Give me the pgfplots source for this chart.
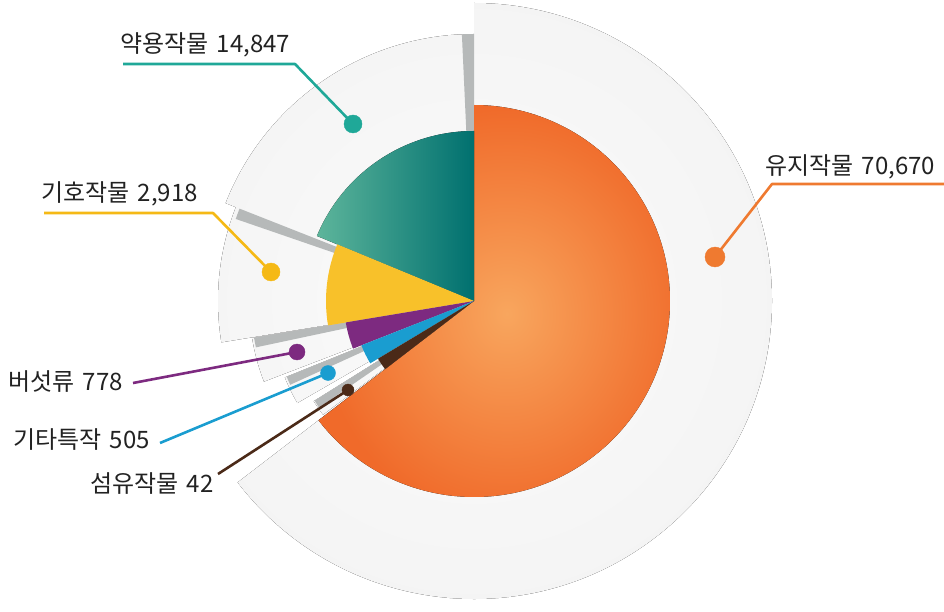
\documentclass[border=0pt]{standalone}
\usepackage{pgfplots}
\pgfplotsset{compat=1.18}
\usepackage{fontspec}
\setmainfont{Noto Sans CJK KR}

\definecolor{cteal}{HTML}{1FA898}
\definecolor{tealL}{HTML}{5DB59B}
\definecolor{tealM}{HTML}{009A8A}
\definecolor{tealR}{HTML}{00706F}
\definecolor{cyellow}{HTML}{F5B915}
\definecolor{yslice}{HTML}{F8C12A}
\definecolor{corange}{HTML}{EF7A30}
\definecolor{oin}{HTML}{F8A65E}
\definecolor{oout}{HTML}{F06A2A}
\definecolor{cpurple}{HTML}{7D2A80}
\definecolor{cblue}{HTML}{1A9DD0}
\definecolor{cbrown}{HTML}{4B2A18}
\definecolor{band}{HTML}{B6B9B9}
\definecolor{bgin}{HTML}{FBFBFB}
\definecolor{bgmid}{HTML}{F3F3F3}
\definecolor{bgout}{HTML}{E7E7E7}
\definecolor{txt}{HTML}{222222}

% light grey backdrop, brighter towards the centre
\pgfdeclareradialshading{bgshade}{\pgfpoint{0bp}{0bp}}{color(0bp)=(bgin); color(30bp)=(bgmid); color(50bp)=(bgout)}

% sector: start angle, end angle, radius (pt = px here), style
\newcommand{\sector}[4]{\fill[#4] (axis cs:474,310) -- ++(#1:#3pt) arc[start angle=#1, end angle=#2, radius=#3pt] -- cycle;}
\newcommand{\sectorpath}[3]{(axis cs:474,310) -- ++(#1:#3pt) arc[start angle=#1, end angle=#2, radius=#3pt] -- cycle}

\begin{document}
\begin{tikzpicture}
\begin{axis}[x=1pt, y=1pt, xmin=0, xmax=944, ymin=0, ymax=611,
  hide axis, clip=true]
\path (axis cs:0,0) rectangle (axis cs:944,611);

% backgrounds
\begin{scope}
\clip \sectorpath{90}{158.5}{267} \sectorpath{158.5}{189.3}{256}
      \sectorpath{189.5}{201}{225} \sectorpath{202}{210}{204}
      \sectorpath{212}{217}{189} \sectorpath{217.5}{450}{298};
\fill[shading=bgshade] (axis cs:474,310) circle[radius=300pt];
\end{scope}

% folds
\sector{90}{92.6}{267}{band}
\sector{158.5}{161}{252}{band}
\sector{189.5}{192}{223}{band}
\sector{202}{204.5}{202}{band}
\sector{212}{214.5}{188}{band}

% slices
\sector{217.5}{450}{196}{inner color=oin, outer color=oout}
\sector{90}{157.5}{170}{left color=tealL, middle color=tealM, right color=tealR}
\sector{157.5}{189.5}{148}{yslice}
\sector{189.5}{201.5}{130}{cpurple}
\sector{201.5}{211}{121}{cblue}
\sector{211}{217.5}{112}{cbrown}

% leader lines
\addplot[cteal, line width=2.6pt, line join=round, no marks] coordinates {(123,547) (295,547) (353,487)};
\addplot[cyellow, line width=2.6pt, line join=round, no marks] coordinates {(44,398) (213,398) (271,339)};
\addplot[corange, line width=2.6pt, line join=round, no marks] coordinates {(944,427) (772,427) (715,354)};
\addplot[cpurple, line width=2.6pt, no marks] coordinates {(133,228) (297,259)};
\addplot[cblue, line width=2.6pt, no marks] coordinates {(160,168) (328,238)};
\addplot[cbrown, line width=2.6pt, no marks] coordinates {(218,137) (348,221)};

% dots
\addplot[cteal, only marks, mark=*, mark size=9pt] coordinates {(353,487)};
\addplot[cyellow, only marks, mark=*, mark size=9pt] coordinates {(271,339)};
\addplot[corange, only marks, mark=*, mark size=10pt] coordinates {(715,354)};
\addplot[cpurple, only marks, mark=*, mark size=8pt] coordinates {(297,259)};
\addplot[cblue, only marks, mark=*, mark size=7.5pt] coordinates {(328,238)};
\addplot[cbrown, only marks, mark=*, mark size=6pt] coordinates {(348,221)};

% labels
\tikzset{lab/.style={anchor=base west, inner sep=0pt, text=txt, font=\fontsize{24}{28}\selectfont}}
\node[lab] at (axis cs:120,558) {약용작물\hspace{3pt} 14,847};
\node[lab] at (axis cs:41,409) {기호작물\hspace{3pt} 2,918};
\node[lab] at (axis cs:765,436) {유지작물\hspace{3pt} 70,670};
\node[lab] at (axis cs:8,221) {버섯류\hspace{3pt} 778};
\node[lab] at (axis cs:13,163) {기타특작\hspace{3pt} 505};
\node[lab] at (axis cs:90,119) {섬유작물\hspace{3pt} 42};
\end{axis}
\end{tikzpicture}
\end{document}
